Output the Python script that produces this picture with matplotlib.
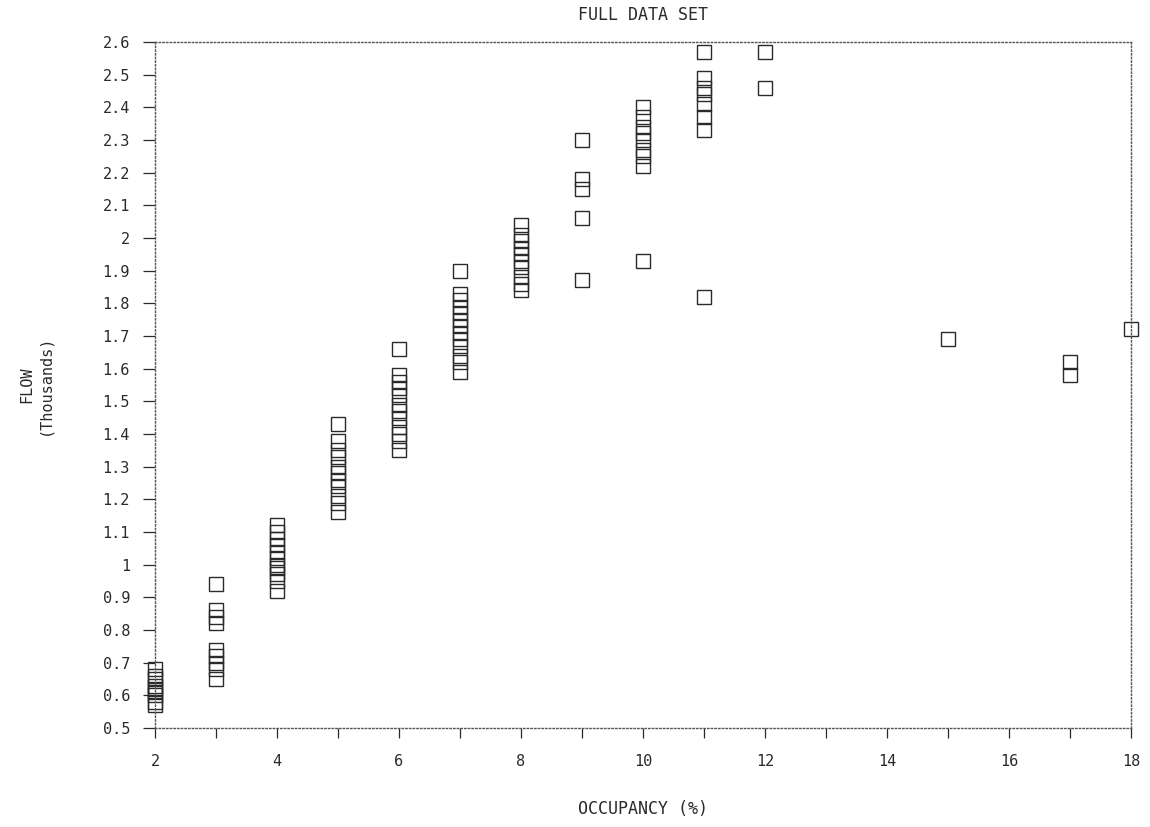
import matplotlib
matplotlib.use("Agg")
import matplotlib.pyplot as plt
from matplotlib.ticker import MultipleLocator, FuncFormatter

# occupancy (%) per group and the flow readings (thousands) observed at it
occ_2 = [0.57, 0.58, 0.60, 0.61, 0.62, 0.63, 0.65, 0.66, 0.68]
occ_3 = [0.94, 0.86, 0.84, 0.82, 0.74, 0.72, 0.70, 0.68, 0.65]
occ_4 = [0.92, 0.95, 0.97, 0.99, 1.00, 1.02, 1.04, 1.06, 1.08, 1.10, 1.12]
occ_5 = [1.43, 1.38, 1.35, 1.33, 1.30, 1.28, 1.26, 1.24, 1.21, 1.19, 1.16]
occ_6 = [1.66, 1.58, 1.56, 1.54, 1.52, 1.49, 1.47, 1.45, 1.42, 1.40, 1.38, 1.35]
occ_7 = [1.90, 1.83, 1.81, 1.79, 1.77, 1.75, 1.73, 1.71, 1.69, 1.67, 1.64, 1.62, 1.59]
occ_8 = [2.04, 2.01, 1.99, 1.97, 1.95, 1.93, 1.91, 1.88, 1.86, 1.84]
occ_9 = [2.30, 2.18, 2.15, 2.06, 1.87]
occ_10 = [2.40, 2.37, 2.34, 2.32, 2.30, 2.27, 2.25, 2.22, 1.93]
occ_11 = [2.57, 2.49, 2.46, 2.44, 2.41, 2.37, 2.33, 1.82]
occ_12 = [2.57, 2.46]
occ_15 = [1.69]
occ_17 = [1.62, 1.58]
occ_18 = [1.72]

groups = {2: occ_2, 3: occ_3, 4: occ_4, 5: occ_5, 6: occ_6, 7: occ_7,
          8: occ_8, 9: occ_9, 10: occ_10, 11: occ_11, 12: occ_12,
          15: occ_15, 17: occ_17, 18: occ_18}

x_vals = [k for k, v in groups.items() for _ in v]
y_vals = [y for v in groups.values() for y in v]

INK = "#2a2a2a"
FONT = "DejaVu Sans Mono"

fig = plt.figure(figsize=(11.5, 8.27), dpi=100)
ax = fig.add_axes([0.1348, 0.1197, 0.8487, 0.8295])

ax.plot(x_vals, y_vals, linestyle="none", marker="s", markersize=9.5,
        markerfacecolor="none", markeredgecolor=INK, markeredgewidth=1.0,
        clip_on=False)

ax.set_xlim(2, 18)
ax.set_ylim(0.5, 2.6)
ax.xaxis.set_major_locator(MultipleLocator(2))
ax.xaxis.set_minor_locator(MultipleLocator(1))
ax.yaxis.set_major_locator(MultipleLocator(0.1))
ax.yaxis.set_major_formatter(FuncFormatter(lambda v, p: f"{v:.1f}".rstrip("0").rstrip(".")))
ax.xaxis.set_major_formatter(FuncFormatter(lambda v, p: f"{v:g}"))

for s in ax.spines.values():
    s.set_linestyle(":")
    s.set_color("#555555")
    s.set_linewidth(1.0)

ax.tick_params(axis="y", direction="out", length=9, width=0.9, pad=9,
               colors=INK, labelsize=11)
ax.tick_params(axis="x", which="both", direction="out", length=7, width=0.9,
               pad=12, colors=INK, labelsize=11)
for lab in ax.get_xticklabels() + ax.get_yticklabels():
    lab.set_family(FONT)

ax.set_title("FULL DATA SET", family=FONT, fontsize=12, color=INK, pad=16)
ax.set_xlabel("OCCUPANCY (%)", family=FONT, fontsize=12, color=INK, labelpad=22)
ax.set_ylabel("FLOW\n(Thousands)", family=FONT, fontsize=11, color=INK,
              labelpad=36, linespacing=1.3)

fig.savefig("out.png", dpi=100)
